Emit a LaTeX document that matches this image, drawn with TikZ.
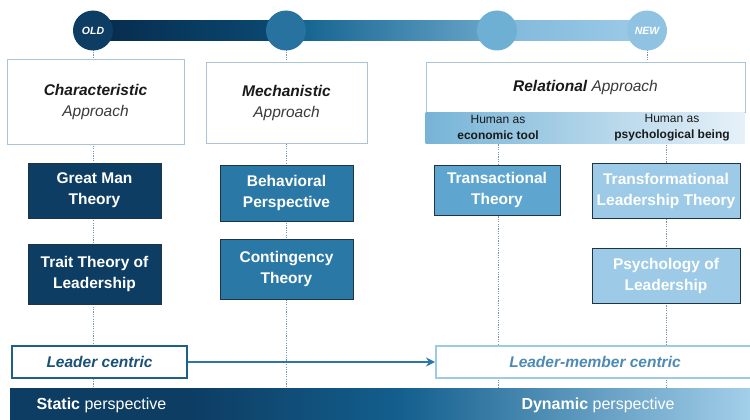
\documentclass[tikz,border=0pt]{standalone}
\usepackage{fontspec}
\setmainfont{Liberation Sans}
\usetikzlibrary{arrows.meta}
\pgfdeclarelayer{bg}
\pgfsetlayers{bg,main}
\definecolor{navy}{HTML}{0D3D63}
\definecolor{midblue}{HTML}{2A78A6}
\definecolor{skyblue}{HTML}{5EA6CF}
\definecolor{paleblue}{HTML}{9CCAE7}
\definecolor{lightest}{HTML}{A3CFEA}
\definecolor{framegray}{HTML}{A9C4DA}
\definecolor{dotgray}{HTML}{7893AB}
\definecolor{edgedark}{HTML}{1E3447}
\definecolor{centricblue}{HTML}{1F5F8C}
\definecolor{arrowblue}{HTML}{2E76A9}
\definecolor{txtdark}{HTML}{1A1A1A}
\definecolor{txtgray}{HTML}{3A3A3A}
% timeline bar tones
\definecolor{barA}{HTML}{062B4C}
\definecolor{barB}{HTML}{0B4A73}
\definecolor{barC}{HTML}{0E5F8C}
\definecolor{barD}{HTML}{6AA6CA}
\definecolor{barE}{HTML}{80B8DA}
\definecolor{barF}{HTML}{9DCBE8}
\definecolor{bandmid}{HTML}{135F8E}
\tikzset{
  approach/.style={draw=framegray, line width=0.8pt, fill=white, align=center,
    font=\fontsize{15.5}{21}\selectfont, text=txtgray},
  theory/.style={draw=edgedark, line width=0.8pt, align=center, text=white,
    font=\bfseries\fontsize{15.5}{21}\selectfont},
  dotline/.style={dotgray, line width=1pt, dash pattern=on 1.2pt off 1.2pt},
  milestone/.style={circle, minimum size=40pt, inner sep=0pt, text=white,
    font=\bfseries\itshape\fontsize{10.5}{11}\selectfont},
  centric/.style={fill=white, minimum height=32pt, line width=2pt,
    font=\bfseries\itshape\fontsize{15.5}{17}\selectfont},
  human/.style={align=center, text=txtdark, font=\fontsize{12}{16.5}\selectfont}
}
\begin{document}
\begin{tikzpicture}[x=1pt,y=-1pt]
\useasboundingbox (0,0) rectangle (750,420);

% timeline bar, one shaded stretch between each pair of milestones
\shade[left color=barA, right color=barB] (93,21) rectangle (286,41);
\shade[left color=barC, right color=barD] (286,21) rectangle (497,41);
\shade[left color=barE, right color=barF] (497,21) rectangle (647,41);
\node[milestone, fill=navy] (old) at (93,30.5) {OLD};
\node[milestone, fill=midblue!90!navy] (m2) at (286,30.5) {};
\node[milestone, fill=skyblue!90!white] (m3) at (497,30.5) {};
\node[milestone, fill=paleblue!80!skyblue] (new) at (647,30.5) {NEW};

% approach headers
\node[approach, minimum width=177pt, minimum height=85pt] (char) at (95.5,101.5)
  {{\bfseries\itshape\color{txtdark}Characteristic}\\\itshape Approach};
\node[approach, minimum width=161pt, minimum height=81pt] (mech) at (286.5,102.5)
  {{\bfseries\itshape\color{txtdark}Mechanistic}\\\itshape Approach};
\node[approach, minimum width=319pt, minimum height=50pt] (rel) at (585.5,87)
  {{\bfseries\itshape\color{txtdark}Relational} \itshape Approach};
\shade[left color=skyblue!85!white, right color=paleblue!25!white]
  (rel.south west) rectangle ++(319,31) coordinate (relband);
\node[human] (econ) at (498,127.5) {Human as\\\bfseries economic tool};
\node[human] (psych) at (672,127.5) {Human as\\\bfseries psychological being};

% theory boxes
\node[theory, fill=navy, minimum width=133pt, minimum height=55pt] (great) at (94.5,190.5)
  {Great Man\\Theory};
\node[theory, fill=navy, minimum width=133pt, minimum height=60pt] (trait) at (94.5,274)
  {Trait Theory of\\Leadership};
\node[theory, fill=midblue, minimum width=133pt, minimum height=56pt] (behav) at (286.5,193)
  {Behavioral\\Perspective};
\node[theory, fill=midblue, minimum width=133pt, minimum height=60pt] (cont) at (286.5,269)
  {Contingency\\Theory};
\node[theory, fill=skyblue, minimum width=126pt, minimum height=50pt] (trans) at (497,190)
  {Transactional\\Theory};
\node[theory, fill=paleblue, minimum width=148pt, minimum height=55pt, inner xsep=2pt] (transf) at (666,190.5)
  {Transformational\\Leadership Theory};
\node[theory, fill=paleblue, minimum width=148pt, minimum height=55pt] (psy) at (666,275.5)
  {Psychology of\\Leadership};

% focus boxes
\node[centric, draw=centricblue, text=centricblue!85!black, minimum width=175pt] (lc) at (99.5,362)
  {Leader centric};
\node[centric, draw=paleblue, text=arrowblue!85!white, minimum width=318pt] (lmc) at (595,362)
  {Leader-member centric};
\draw[arrowblue, line width=1.8pt, -{Stealth[length=9pt,width=9pt]}] (lc.east) -- (lmc.west);

% perspective band
\fill[navy] (10,388) rectangle (190,420);
\shade[left color=navy, right color=bandmid] (190,388) rectangle (400,420);
\shade[left color=bandmid, right color=lightest] (400,388) rectangle (750,420);
\node[anchor=west, text=white, font=\fontsize{16}{18}\selectfont] (static) at (33,405)
  {\bfseries Static \mdseries perspective};
\node[text=white, font=\fontsize{16}{18}\selectfont] (dynamic) at (598,405)
  {\bfseries Dynamic \mdseries perspective};
\coordinate (bandtop) at (0,388);

% dotted guide lines behind the boxes
\begin{pgfonlayer}{bg}
  \draw[dotline] (old.center) -- (old.center |- bandtop);
  \draw[dotline] (m2.center) -- (m2.center |- bandtop);
  \draw[dotline] (new.center) -- (new.center |- rel.north);
  \draw[dotline] (econ.center) -- (econ.center |- bandtop);
  \draw[dotline] (transf.north) ++(0,-30) -- (transf.center |- bandtop);
\end{pgfonlayer}
\end{tikzpicture}
\end{document}
